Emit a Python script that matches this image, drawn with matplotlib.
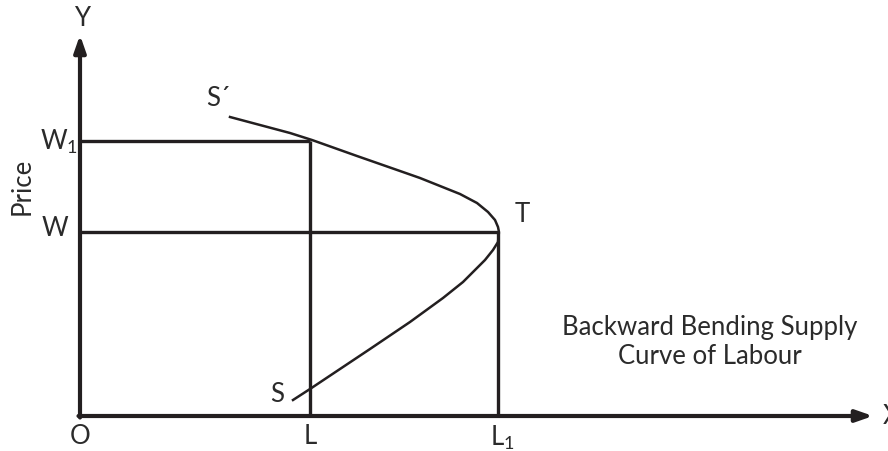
import matplotlib
matplotlib.use("Agg")
import matplotlib.pyplot as plt

plt.rcParams['font.family'] = ['Lato', 'DejaVu Sans']
plt.rcParams['mathtext.fontset'] = 'custom'
plt.rcParams['mathtext.rm'] = 'Lato'
plt.rcParams['mathtext.it'] = 'Lato'

# quantities (labour) and prices (wage)
labour_L = 230
labour_L1 = 418
wage_W = 184
wage_W1 = 275
x_axis_end = 793
y_axis_end = 381

# backward bending supply curve, from S' (top) round T down to S (bottom)
curve_x = [150, 210, 232, 277, 320, 340, 360, 380, 397, 408, 415, 418, 419,
           418, 413, 405, 393, 383, 363, 330, 290, 257, 230, 213]
curve_y = [299, 283, 276, 260, 245, 238, 230, 222, 213, 204, 196, 189, 184,
           174, 166, 156, 144, 134, 118, 94, 67, 45, 27, 16]

INK = '#231f20'
TXT = '#2b2b2b'

fig = plt.figure(figsize=(8.88, 4.51), dpi=100)
ax = fig.add_axes([0, 0, 1, 1])
ax.set_xlim(-80, 808)
ax.set_ylim(-35, 416)
ax.axis('off')

# axes with arrow heads
ax.annotate('', xy=(x_axis_end, 0), xytext=(-1.5, 0),
            arrowprops=dict(arrowstyle='-|>,head_length=1.0,head_width=0.35', color=INK, lw=3, shrinkA=0, shrinkB=0))
ax.annotate('', xy=(0, y_axis_end), xytext=(0, -1.5),
            arrowprops=dict(arrowstyle='-|>,head_length=1.0,head_width=0.35', color=INK, lw=3, shrinkA=0, shrinkB=0))

# guide lines
ax.plot([0, labour_L], [wage_W1, wage_W1], color=INK, lw=2.4, solid_capstyle='butt')
ax.plot([0, labour_L1], [wage_W, wage_W], color=INK, lw=2.4, solid_capstyle='butt')
ax.plot([labour_L, labour_L], [0, wage_W1], color=INK, lw=2.4, solid_capstyle='butt')
ax.plot([labour_L1, labour_L1], [0, wage_W], color=INK, lw=2.4, solid_capstyle='butt')

# supply curve
ax.plot(curve_x, curve_y, color=INK, lw=1.8, solid_joinstyle='round')

fs = 18.5
ax.text(0, -21, 'O', fontsize=fs, color=TXT, ha='center', va='center')
ax.text(labour_L, -21, 'L', fontsize=fs, color=TXT, ha='center', va='center')
ax.text(labour_L1 + 4, -22, r'$\mathrm{L}_{1}$', fontsize=fs, color=TXT, ha='center', va='center')
ax.text(-25, wage_W + 4, 'W', fontsize=fs, color=TXT, ha='center', va='center')
ax.text(-21, wage_W1 - 1, r'$\mathrm{W}_{1}$', fontsize=fs, color=TXT, ha='center', va='center')
ax.text(-58, 230, 'Price', fontsize=fs, color=TXT, ha='center', va='center', rotation=90)
ax.text(2, 398, 'Y', fontsize=fs, color=TXT, ha='center', va='center')
ax.text(803, 0, 'X', fontsize=fs, color=TXT, ha='left', va='center')
ax.text(138, 317, 'S´', fontsize=fs, color=TXT, ha='center', va='center')
ax.text(197, 21, 'S', fontsize=fs, color=TXT, ha='center', va='center')
ax.text(442, 202, 'T', fontsize=fs, color=TXT, ha='center', va='center')
ax.text(630, 89, 'Backward Bending Supply', fontsize=fs, color=TXT, ha='center', va='center')
ax.text(630, 60, 'Curve of Labour', fontsize=fs, color=TXT, ha='center', va='center')

fig.savefig('out.png', dpi=100)
